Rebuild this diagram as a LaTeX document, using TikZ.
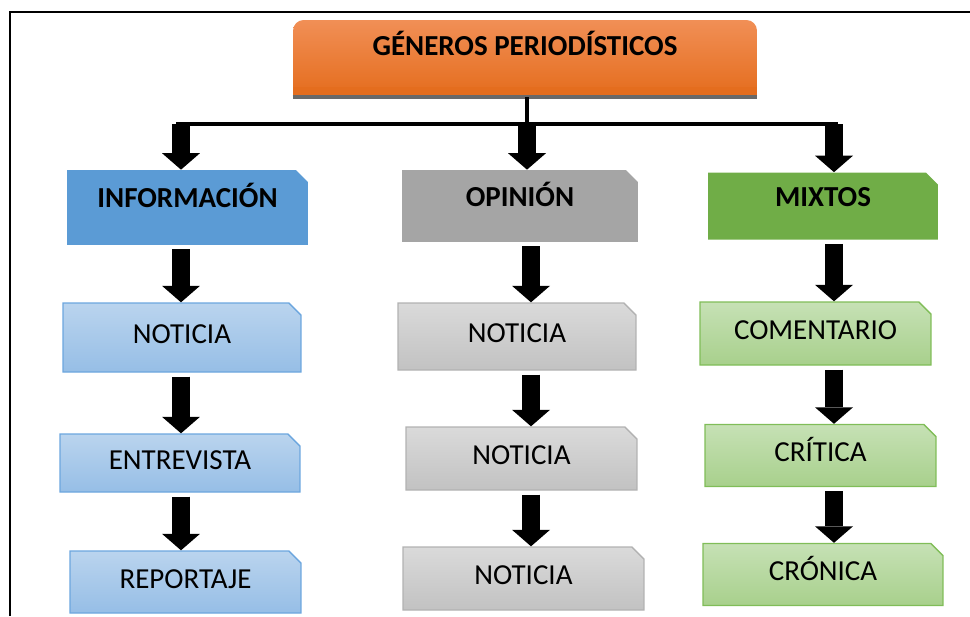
\documentclass[tikz,border=0pt]{standalone}
\usepackage{fontspec}
\setmainfont{Carlito}
\usetikzlibrary{arrows.meta, shapes.misc}

\definecolor{orangetop}{RGB}{241,143,86}
\definecolor{orangebot}{RGB}{228,108,28}
\definecolor{titleline}{RGB}{105,105,105}
\definecolor{bluedark}{RGB}{91,155,213}
\definecolor{bluetop}{RGB}{186,212,238}
\definecolor{bluebot}{RGB}{150,190,230}
\definecolor{blueline}{RGB}{108,166,222}
\definecolor{graydark}{RGB}{165,165,165}
\definecolor{graytop}{RGB}{218,218,218}
\definecolor{graybot}{RGB}{194,194,194}
\definecolor{grayline}{RGB}{178,178,178}
\definecolor{greendark}{RGB}{112,173,71}
\definecolor{greentop}{RGB}{198,225,181}
\definecolor{greenbot}{RGB}{168,208,140}
\definecolor{greenline}{RGB}{128,189,88}

\begin{document}
\begin{tikzpicture}[%
  x = 0.02cm, y = -0.02cm,
  snip/.style = {chamfered rectangle, chamfered rectangle corners = north east,
    chamfered rectangle xsep = 0.12cm, chamfered rectangle ysep = 0.12cm,
    inner sep = 0pt},
  header/.style = {snip, font = \fontsize{16.5}{20}\selectfont\bfseries,
    text height = 0.45cm, text depth = 0.45cm},
  item/.style = {snip, line width = 0.8pt, font = \fontsize{16.5}{20}\selectfont,
    text height = 0.45cm, text depth = 0.2cm},
  blueitem/.style = {item, draw = blueline, top color = bluetop, bottom color = bluebot},
  grayitem/.style = {item, draw = grayline, top color = graytop, bottom color = graybot},
  greenitem/.style = {item, draw = greenline, top color = greentop, bottom color = greenbot},
  title/.style = {rectangle, rounded corners = 6pt, top color = orangetop,
    bottom color = orangebot, inner sep = 0pt,
    font = \fontsize{16.5}{20}\selectfont\bfseries,
    text height = 0.45cm, text depth = 0.56cm},
  blockarrow/.style = {line width = 0.37cm, shorten <= 0.08cm,
    -{Triangle[width = 0.76cm, length = 0.33cm, line width = 0pt]}},
  link/.style = {line width = 2pt}]
  \useasboundingbox (0, 0) rectangle (970, 616);

  % frame
  \draw[line width = 1.4pt] (10, 616) -- (10, 12) -- (970, 12);

  % title
  \node[title, minimum width = 9.28cm, minimum height = 1.54cm] (gen) at (525, 58.5) {GÉNEROS PERIODÍSTICOS};
  \fill[orangebot!96!orangetop] (gen.south west) rectangle ([yshift = 6pt]gen.south east);
  \draw[titleline, line width = 2.2pt] (gen.south west) -- (gen.south east);

  % headers
  \node[header, fill = bluedark, minimum width = 4.82cm, minimum height = 1.5cm] (info) at (187.5, 207.5) {INFORMACIÓN};
  \node[header, fill = graydark, minimum width = 4.72cm, minimum height = 1.44cm] (opin) at (520, 206) {OPINIÓN};
  \node[header, fill = greendark, minimum width = 4.6cm, minimum height = 1.34cm] (mixt) at (823, 206) {MIXTOS};

  % items
  \node[blueitem, minimum width = 4.76cm, minimum height = 1.38cm] (inot) at (182, 337.5) {NOTICIA};
  \node[blueitem, minimum width = 4.8cm, minimum height = 1.16cm] (ient) at (180, 463) {ENTREVISTA};
  \node[blueitem, minimum width = 4.62cm, minimum height = 1.24cm] (irep) at (185.5, 582) {REPORTAJE};

  \node[grayitem, minimum width = 4.76cm, minimum height = 1.34cm] (onot1) at (517, 336.5) {NOTICIA};
  \node[grayitem, minimum width = 4.62cm, minimum height = 1.26cm] (onot2) at (521.5, 458.5) {NOTICIA};
  \node[grayitem, minimum width = 4.82cm, minimum height = 1.26cm] (onot3) at (523.5, 578.5) {NOTICIA};

  \node[greenitem, minimum width = 4.62cm, minimum height = 1.26cm] (mcom) at (815.5, 333.5) {COMENTARIO};
  \node[greenitem, minimum width = 4.62cm, minimum height = 1.24cm] (mcri) at (820.5, 455.5) {CRÍTICA};
  \node[greenitem, minimum width = 4.8cm, minimum height = 1.24cm] (mcro) at (823, 574.5) {CRÓNICA};

  % bus
  \coordinate (bus) at (527, 124);
  \coordinate (busl) at (176, 124);
  \coordinate (busr) at (838, 124);
  \coordinate (col1) at (181, 0);
  \coordinate (col2) at (531, 0);
  \coordinate (col3) at (834, 0);
  \draw[link] (gen.south -| bus) -- (bus);
  \draw[link] (busl) -- (busr);

  \draw[blockarrow, shorten <= 0pt] (bus -| col1) -- (info.north -| col1);
  \draw[blockarrow, shorten <= 0pt] (bus) -- (opin.north -| bus);
  \draw[blockarrow, shorten <= 0pt] (bus -| col3) -- (mixt.north -| col3);

  \draw[blockarrow] (info.south -| col1) -- (inot.north -| col1);
  \draw[blockarrow] (inot.south -| col1) -- (ient.north -| col1);
  \draw[blockarrow] (ient.south -| col1) -- (irep.north -| col1);

  \draw[blockarrow] (opin.south -| col2) -- (onot1.north -| col2);
  \draw[blockarrow] (onot1.south -| col2) -- (onot2.north -| col2);
  \draw[blockarrow] (onot2.south -| col2) -- (onot3.north -| col2);

  \draw[blockarrow] (mixt.south -| col3) -- (mcom.north -| col3);
  \draw[blockarrow] (mcom.south -| col3) -- (mcri.north -| col3);
  \draw[blockarrow] (mcri.south -| col3) -- (mcro.north -| col3);
\end{tikzpicture}
\end{document}
